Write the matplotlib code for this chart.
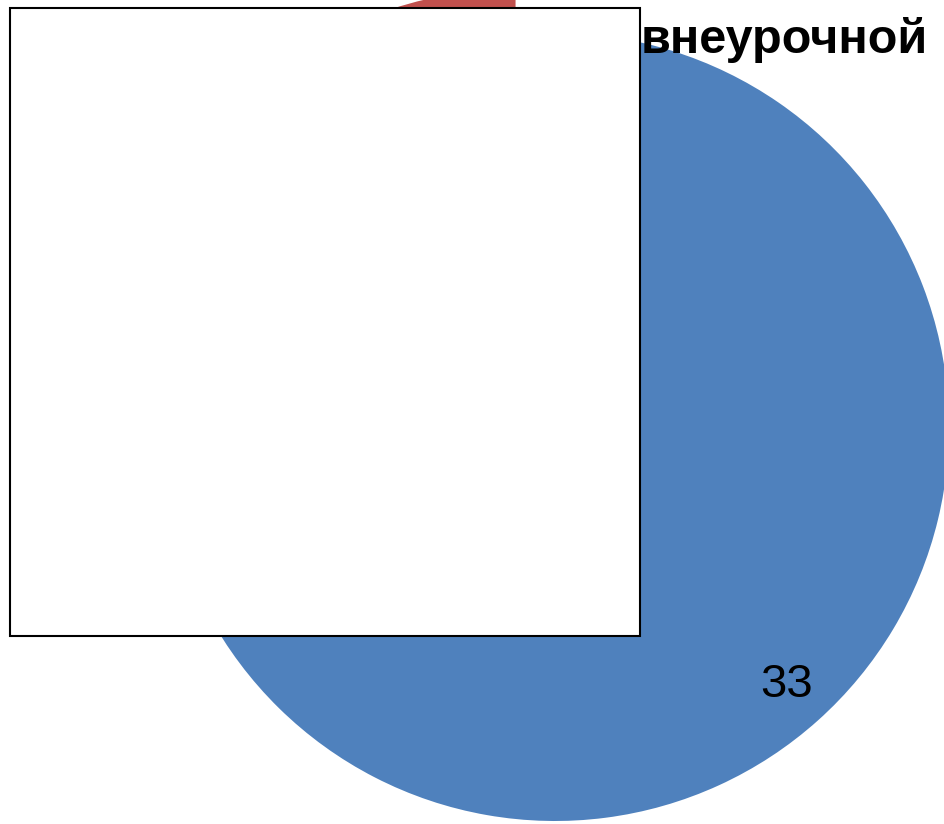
import matplotlib
matplotlib.use("Agg")
import matplotlib.pyplot as plt
from matplotlib.patches import Rectangle

# ---- data ----
categories = ["Категория 1", "Категория 2"]
values = [33, 10]
colors = ["#4F81BD", "#C0504D"]
explode = [0, 0.15]
title_text = "внеурочной"

W, H = 945, 824
fig = plt.figure(figsize=(W / 100, H / 100), dpi=100)
fig.patch.set_facecolor("white")

# pie placement (pixels, from top-left)
cx, cy, r = 555, 427, 394
lim = 1.25
size = 2 * lim * r
ax = fig.add_axes([(cx - lim * r) / W, (H - cy - lim * r) / H, size / W, size / H])

total = sum(values)
wedges, texts, autotexts = ax.pie(
    values,
    colors=colors,
    startangle=90,
    counterclock=False,
    explode=explode,
    radius=1,
    autopct=lambda p: f"{p * total / 100:.0f}" if p > 50 else "",
    pctdistance=0.88,
    wedgeprops=dict(linewidth=0),
    textprops=dict(fontsize=34, color="black",
                   family=["Liberation Sans Narrow", "Liberation Sans", "DejaVu Sans"]),
)
ax.set_xlim(-lim, lim)
ax.set_ylim(-lim, lim)
ax.axis("off")

# white bordered box covering left part
rect = Rectangle((10 / W, 1 - 636 / H), 630 / W, 628 / H, transform=fig.transFigure,
                 facecolor="white", edgecolor="black", linewidth=1.5, zorder=10)
fig.add_artist(rect)

# visible part of title
fig.text(641 / W, 1 - 40 / H, title_text, ha="left", va="center", fontsize=35,
         fontweight="bold", color="black",
         family=["Liberation Sans Narrow", "Liberation Sans", "DejaVu Sans"], zorder=11)

fig.savefig("out.png", dpi=100)
